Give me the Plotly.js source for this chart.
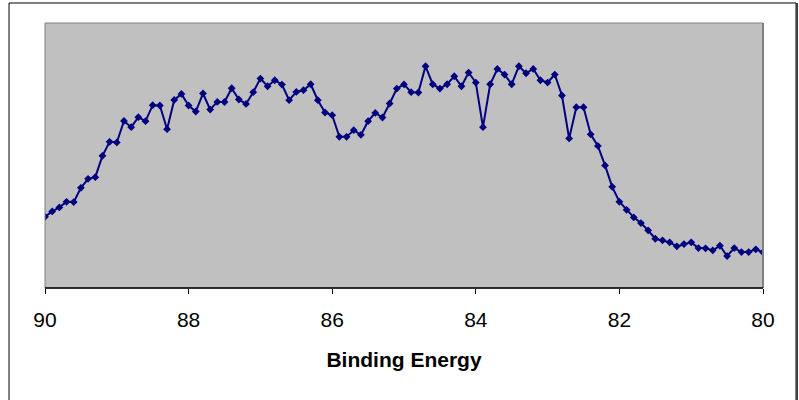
<!DOCTYPE html>
<html>
<head>
<meta charset="utf-8">
<script src="https://cdn.plot.ly/plotly-3.0.1.min.js"></script>
<style>
  html, body { margin: 0; padding: 0; background: #ffffff; }
  #chart { width: 799px; height: 400px; }
</style>
</head>
<body>
<div id="chart"></div>
<script>
// Binding energy (eV), 90.0 down to 79.9 in 0.1 steps
const bindingEnergy = [
  90.0, 89.9, 89.8, 89.7, 89.6, 89.5, 89.4, 89.3, 89.2, 89.1,
  89.0, 88.9, 88.8, 88.7, 88.6, 88.5, 88.4, 88.3, 88.2, 88.1,
  88.0, 87.9, 87.8, 87.7, 87.6, 87.5, 87.4, 87.3, 87.2, 87.1,
  87.0, 86.9, 86.8, 86.7, 86.6, 86.5, 86.4, 86.3, 86.2, 86.1,
  86.0, 85.9, 85.8, 85.7, 85.6, 85.5, 85.4, 85.3, 85.2, 85.1,
  85.0, 84.9, 84.8, 84.7, 84.6, 84.5, 84.4, 84.3, 84.2, 84.1,
  84.0, 83.9, 83.8, 83.7, 83.6, 83.5, 83.4, 83.3, 83.2, 83.1,
  83.0, 82.9, 82.8, 82.7, 82.6, 82.5, 82.4, 82.3, 82.2, 82.1,
  82.0, 81.9, 81.8, 81.7, 81.6, 81.5, 81.4, 81.3, 81.2, 81.1,
  81.0, 80.9, 80.8, 80.7, 80.6, 80.5, 80.4, 80.3, 80.2, 80.1,
  80.0, 79.9
];

// Intensity (arbitrary units)
const intensity = [
   713,  767,  807,  863,  860, 1003, 1093, 1110, 1323, 1463,
  1457, 1673, 1610, 1710, 1670, 1830, 1827, 1590, 1883, 1943,
  1827, 1767, 1947, 1787, 1863, 1862, 2000, 1887, 1843, 1960,
  2097, 2020, 2080, 2037, 1880, 1963, 1980, 2040, 1880, 1757,
  1730, 1513, 1513, 1580, 1533, 1670, 1753, 1707, 1847, 1997,
  2038, 1960, 1957, 2220, 2040, 1997, 2040, 2120, 2020, 2157,
  2057, 1610, 2040, 2193, 2137, 2040, 2220, 2150, 2193, 2080,
  2057, 2137, 1927, 1497, 1810, 1810, 1538, 1422, 1227, 1013,
   863,  783,  707,  650,  577,  493,  477,  457,  417,  440,
   457,  400,  397,  377,  423,  320,  400,  360,  360,  387,
   357,  430
];

const xTicks = [90, 88, 86, 84, 82, 80];
const xTickText = ['90', '88', '86', '84', '82', '80'];

const trace = {
  x: bindingEnergy,
  y: intensity,
  type: 'scatter',
  mode: 'lines+markers',
  line: { color: '#000080', width: 2 },
  marker: { symbol: 'diamond', size: 6, color: '#000080' },
  cliponaxis: true,
  hoverinfo: 'x+y'
};

const layout = {
  width: 799,
  height: 400,
  margin: { l: 45, r: 36, t: 23, b: 112, pad: 0 },
  paper_bgcolor: '#ffffff',
  plot_bgcolor: '#C0C0C0',
  showlegend: false,
  font: { family: 'Arial, "Liberation Sans", sans-serif', color: '#000000' },
  xaxis: {
    range: [90, 80],
    tickmode: 'array',
    tickvals: xTicks,
    ticktext: xTickText,
    ticks: 'outside',
    ticklen: 5,
    tickwidth: 1,
    tickcolor: '#000000',
    ticklabelstandoff: 8,
    tickfont: { size: 21, family: 'Arial, "Liberation Sans", sans-serif', color: '#000000' },
    showgrid: false,
    zeroline: false,
    showline: false,
    title: {
      text: 'Binding Energy',
      font: { size: 21, family: 'Arial, "Liberation Sans", sans-serif', color: '#000000', weight: 'bold' },
      standoff: 22
    }
  },
  yaxis: {
    range: [0, 2653],
    showticklabels: false,
    ticks: '',
    showgrid: false,
    zeroline: false,
    showline: false,
    fixedrange: true
  },
  shapes: [
    // plot area border (grey)
    { type: 'rect', xref: 'paper', yref: 'paper', x0: 0, x1: 1, y0: 0, y1: 1,
      line: { color: '#808080', width: 1 }, layer: 'above' },
    // right edge slightly heavier
    { type: 'line', xref: 'paper', yref: 'paper', x0: 1, x1: 1, y0: 0, y1: 1,
      line: { color: '#808080', width: 2 }, layer: 'above' },
    // x axis line (black)
    { type: 'line', xref: 'paper', yref: 'paper', x0: 0, x1: 1, y0: 0, y1: 0,
      line: { color: '#000000', width: 1.5 }, layer: 'above' },
    // outer chart border
    { type: 'rect', xref: 'paper', yref: 'paper', x0: -0.0501, x1: 1.0460, y0: -0.45, y1: 1.0755,
      line: { color: '#000000', width: 1 }, layer: 'above' },
    { type: 'line', xref: 'paper', yref: 'paper', x0: 1.0474, x1: 1.0474, y0: -0.45, y1: 1.0755,
      line: { color: '#404040', width: 2 }, layer: 'above' }
  ]
};

Plotly.newPlot('chart', [trace], layout, { displayModeBar: false, staticPlot: true });
</script>
</body>
</html>
